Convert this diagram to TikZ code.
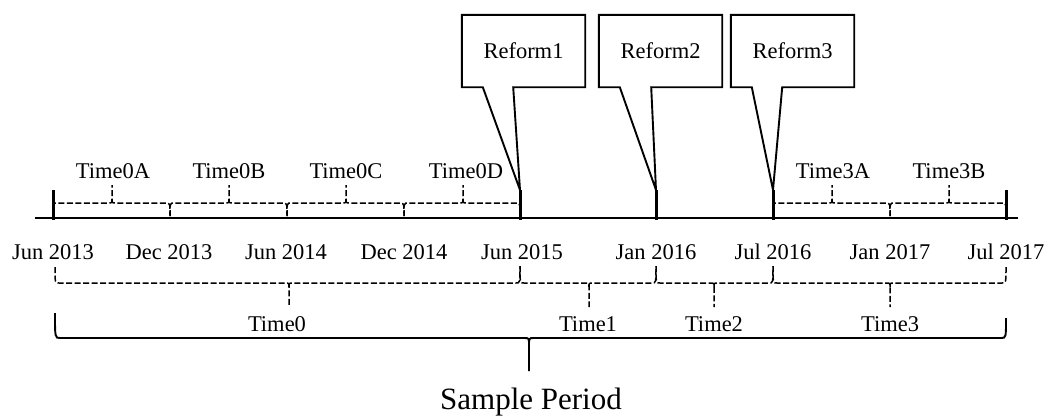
\documentclass[tikz,border=0pt]{standalone}
\usepackage{fontspec}
\setmainfont{Liberation Serif}
\tikzset{
  lbl/.style={inner sep=0pt, anchor=base, font=\fontsize{22.5}{27}\selectfont},
  biglbl/.style={inner sep=0pt, anchor=base, font=\fontsize{31}{36}\selectfont},
  axisline/.style={line width=2.8pt},
  tickmark/.style={line width=3pt},
  dbrace/.style={line width=1.5pt, dash pattern=on 6pt off 2.5pt},
  sbrace/.style={line width=1.9pt},
  callout/.style={line width=1.9pt, line join=miter},
}
\newcommand\tlUpBrace[3]{%
  \draw[dbrace] (#1,216) .. controls (#1,203) .. (#1+4,203) -- (#3-4,203) .. controls (#3,203) .. (#3,199) -- (#3,185);
  \draw[dbrace] (#3,199) .. controls (#3,203) .. (#3+4,203) -- (#2-4,203) .. controls (#2,203) .. (#2,216);}
\newcommand\tlDownBrace[5]{%
  \draw[dbrace] (#1,#4) .. controls (#1,283) .. (#1+4,283) -- (#3-4,283) .. controls (#3,283) .. (#3,287) -- (#3,307);
  \draw[dbrace] (#3,287) .. controls (#3,283) .. (#3+4,283) -- (#2-4,283) .. controls (#2,283) .. (#2,#5);}
\begin{document}
\begin{tikzpicture}[x=1pt, y=-1pt]
\useasboundingbox (0,0) rectangle (1057,416);
% axis
\coordinate (axL) at (35,218);
\coordinate (axR) at (1018,218);
\draw[axisline] (axL) -- (axR);
% ticks
\foreach \x in {53,520,656,773,1006} {\draw[tickmark] (\x,190) -- (\x,219.5);}
% upper dashed braces
\tlUpBrace{53}{170}{112}
\tlUpBrace{170}{287}{229}
\tlUpBrace{287}{404}{346}
\tlUpBrace{404}{520}{463}
\tlUpBrace{773}{890}{832}
\tlUpBrace{890}{1006}{949}
\node[lbl] (t0a) at (113,178) {Time0A};
\node[lbl] (t0b) at (229,178) {Time0B};
\node[lbl] (t0c) at (346,178) {Time0C};
\node[lbl] (t0d) at (466,178) {Time0D};
\node[lbl] (t3a) at (833,178) {Time3A};
\node[lbl] (t3b) at (949,178) {Time3B};
% dates
\node[lbl] (d1) at (53,259) {Jun 2013};
\node[lbl] (d2) at (169,259) {Dec 2013};
\node[lbl] (d3) at (286,259) {Jun 2014};
\node[lbl] (d4) at (404,259) {Dec 2014};
\node[lbl] (d5) at (522,259) {Jun 2015};
\node[lbl] (d6) at (656,259) {Jan 2016};
\node[lbl] (d7) at (773,259) {Jul 2016};
\node[lbl] (d8) at (890,259) {Jan 2017};
\node[lbl] (d9) at (1006,259) {Jul 2017};
% lower dashed braces
\tlDownBrace{55}{520}{289}{267}{266}
\tlDownBrace{520}{656}{589}{266}{266}
\tlDownBrace{656}{773}{714}{266}{266}
\tlDownBrace{773}{1006}{890}{266}{266}
\node[lbl] (p0) at (277,331) {Time0};
\node[lbl] (p1) at (588,331) {Time1};
\node[lbl] (p2) at (714,331) {Time2};
\node[lbl] (p3) at (890,331) {Time3};
% solid brace
\draw[sbrace] (55,313) .. controls (55,338) .. (60,338) -- (524,338) .. controls (529,338) .. (529,345) -- (529,371);
\draw[sbrace] (529,345) .. controls (529,338) .. (534,338) -- (1001,338) .. controls (1006,338) .. (1006,318);
\node[biglbl] (sp) at (531,409) {Sample Period};
% callouts
\node[lbl, anchor=center, minimum width=123pt, minimum height=72pt] (r1) at (523.5,51) {Reform1};
\node[lbl, anchor=center, minimum width=123pt, minimum height=72pt] (r2) at (660.5,51) {Reform2};
\node[lbl, anchor=center, minimum width=123pt, minimum height=72pt] (r3) at (792.5,51) {Reform3};
\coordinate (tip1) at (520,190);
\coordinate (tip2) at (656,190);
\coordinate (tip3) at (773,190);
\draw[callout] (r1.south west) -- (r1.north west) -- (r1.north east) -- (r1.south east) -- ([xshift=-72pt]r1.south east) -- (tip1) -- ([xshift=21pt]r1.south west) -- cycle;
\draw[callout] (r2.south west) -- (r2.north west) -- (r2.north east) -- (r2.south east) -- ([xshift=-71pt]r2.south east) -- (tip2) -- ([xshift=21pt]r2.south west) -- cycle;
\draw[callout] (r3.south west) -- (r3.north west) -- (r3.north east) -- (r3.south east) -- ([xshift=-72pt]r3.south east) -- (tip3) -- ([xshift=21pt]r3.south west) -- cycle;
\end{tikzpicture}
\end{document}
